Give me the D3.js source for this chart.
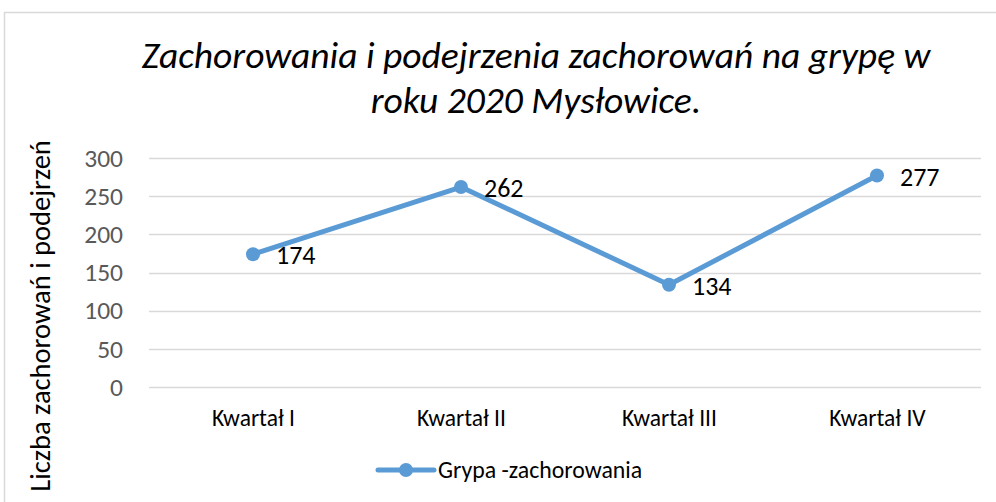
<!DOCTYPE html>
<html>
<head>
<meta charset="utf-8">
<script src="https://cdn.jsdelivr.net/npm/d3@7"></script>
<style>
  body { margin: 0; background: #fff; }
  svg { display: block; font-family: Carlito, Calibri, "Open Sans", sans-serif; }
</style>
</head>
<body>
<svg id="chart" width="996" height="502"></svg>
<script>
// data
var categories = ["Kwartał I", "Kwartał II", "Kwartał III", "Kwartał IV"];
var values = [174, 262, 134, 277];
var yTicks = [0, 50, 100, 150, 200, 250, 300];
var seriesName = "Grypa -zachorowania";
var titleLines = ["Zachorowania i podejrzenia zachorowań na grypę w", "roku 2020 Mysłowice."];
var yLabel = "Liczba zachorowań i podejrzeń";

var svg = d3.select("#chart");
var blue = "#5B9BD5";
var font = "Carlito, Calibri, 'Open Sans', sans-serif";

// chart frame
svg.append("rect")
  .attr("x", 4.5).attr("y", 12.5)
  .attr("width", 1000).attr("height", 500)
  .attr("fill", "none").attr("stroke", "#d9d9d9").attr("stroke-width", 1.5);

// title
svg.selectAll(".title").data(titleLines).enter().append("text")
  .attr("class", "title")
  .attr("x", 536)
  .attr("y", function(d, i) { return 68 + i * 45; })
  .attr("text-anchor", "middle")
  .style("font-style", "italic")
  .style("font-size", "37.5px")
  .attr("fill", "#000")
  .text(function(d) { return d; });

var x = d3.scalePoint().domain(categories).range([253, 877]);
var y = d3.scaleLinear().domain([0, 300]).range([387, 158]);

// gridlines
svg.append("g").selectAll("line").data(yTicks).enter().append("line")
  .attr("x1", 149).attr("x2", 981)
  .attr("y1", function(d) { return Math.round(y(d)) + 0.5; })
  .attr("y2", function(d) { return Math.round(y(d)) + 0.5; })
  .attr("stroke", "#d9d9d9").attr("stroke-width", 1.5);

// y axis
var yAxis = svg.append("g")
  .attr("transform", "translate(123,0)")
  .call(d3.axisLeft(y).tickValues(yTicks).tickSize(0).tickPadding(0));
yAxis.select(".domain").remove();
yAxis.selectAll("text")
  .attr("fill", "#595959")
  .style("font-size", "25.5px")
  .style("font-family", font);

// x axis labels
var xAxis = svg.append("g")
  .attr("transform", "translate(0,409)")
  .call(d3.axisBottom(x).tickSize(0).tickPadding(0));
xAxis.select(".domain").remove();
xAxis.selectAll("text")
  .attr("fill", "#000")
  .style("font-size", "23.5px")
  .style("font-family", font);

// y label
svg.append("text")
  .attr("transform", "translate(50,316) rotate(-90)")
  .attr("text-anchor", "middle")
  .style("font-size", "28.5px")
  .attr("fill", "#000")
  .text(yLabel);

// line
var line = d3.line()
  .x(function(d, i) { return x(categories[i]); })
  .y(function(d) { return y(d); });

svg.append("path")
  .datum(values)
  .attr("d", line)
  .attr("fill", "none")
  .attr("stroke", blue)
  .attr("stroke-width", 5)
  .attr("stroke-linejoin", "round")
  .attr("stroke-linecap", "round");

svg.selectAll(".pt").data(values).enter().append("circle")
  .attr("class", "pt")
  .attr("cx", function(d, i) { return x(categories[i]); })
  .attr("cy", function(d) { return y(d); })
  .attr("r", 7)
  .attr("fill", blue);

// data labels
svg.selectAll(".lbl").data(values).enter().append("text")
  .attr("class", "lbl")
  .attr("x", function(d, i) { return x(categories[i]) + 23; })
  .attr("y", function(d) { return y(d) + 10; })
  .style("font-size", "26px")
  .attr("fill", "#000")
  .text(function(d) { return d; });

// legend
var lg = svg.append("g").attr("transform", "translate(378,470)");
lg.append("line").attr("x1", 0).attr("x2", 56).attr("y1", 0).attr("y2", 0)
  .attr("stroke", blue).attr("stroke-width", 5).attr("stroke-linecap", "round");
lg.append("circle").attr("cx", 28).attr("cy", 0).attr("r", 7).attr("fill", blue);
lg.append("text").attr("x", 60).attr("y", 8)
  .style("font-size", "23.8px").attr("fill", "#000")
  .text(seriesName);
</script>
</body>
</html>
